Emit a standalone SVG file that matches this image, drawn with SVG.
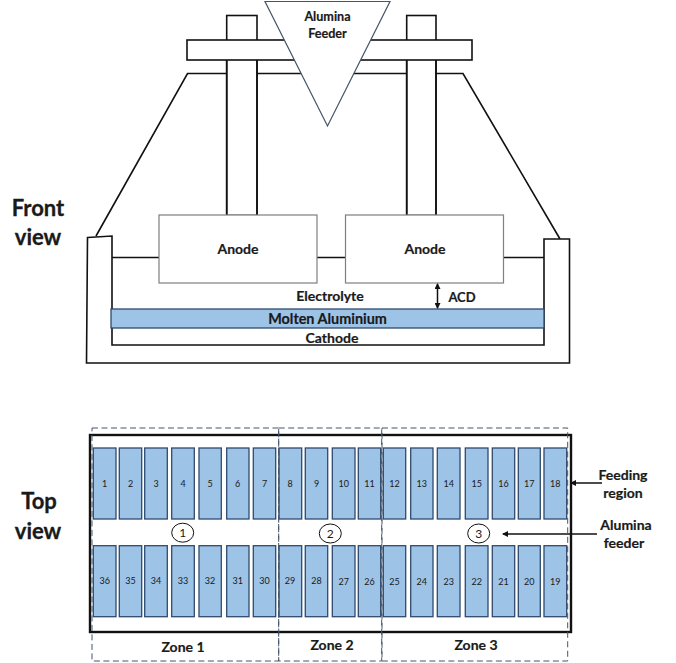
<svg xmlns="http://www.w3.org/2000/svg" width="676" height="663" viewBox="0 0 676 663">
<style>
text{font-family:Lato,"Liberation Sans",sans-serif;fill:#1a1a1a;text-anchor:middle}
.b{font-weight:700;font-size:14px;stroke:#1a1a1a;stroke-width:.2}
.f{font-weight:700;font-size:12.600px;stroke:#1a1a1a;stroke-width:.2}
.s{font-weight:700;font-size:14px;stroke:#1a1a1a;stroke-width:.2}
.h{font-weight:700;font-size:22px;stroke:#1a1a1a;stroke-width:.3}
.n{font-size:9px}
.c{font-size:12px}
.l{fill:none;stroke:#111;stroke-width:1.6}
.w{fill:#fff;stroke:#111;stroke-width:1.6}
.a{fill:#fff;stroke:#7f7f7f;stroke-width:1.2}
.t{fill:#9dc3e6;stroke:#2f4a6d;stroke-width:1.3}
.d{fill:none;stroke:#44546a;stroke-width:1;stroke-dasharray:6 3.5}
.e{fill:#fff;stroke:#111;stroke-width:1}
.k{fill:none;stroke:#111;stroke-width:1.5}
</style>
<defs>
<marker id="ah" markerWidth="6" markerHeight="6" refX="5" refY="3" orient="auto-start-reverse" markerUnits="userSpaceOnUse"><path d="M0 0L6 3L0 6Z" fill="#111"/></marker>
</defs>
<text class="h" x="38" y="216">Front</text>
<text class="h" x="38" y="245">view</text>
<text class="h" x="39" y="509">Top</text>
<text class="h" x="38" y="539">view</text>
<g id="cell-shell"><path class="l" d="M96 236L187.500 73.500H463L560 239"/><path class="w" d="M87.500 237.500L112 236V345H544V239H569.500V363H86.500Z"/></g>
<g id="electrolyte-level"><path class="l" d="M112 257.500H159M317 257.500H345.500M503.500 257.500H544"/></g>
<g id="anode-rods"><rect class="w" x="226.700" y="15.500" width="30.300" height="200"/><rect class="w" x="406.700" y="15.500" width="29.300" height="200"/><rect class="w" x="187" y="40" width="285" height="20"/><path class="l" d="M226.700 60V215M257 60V215M406.700 60V215M436 60V215"/></g>
<g id="alumina-feeder"><path d="M265 1.500H390L327.500 126Z" fill="#fff" stroke="#44546a" stroke-width="1.2"/><text class="f" x="327.500" y="21">Alumina</text><text class="f" x="327.500" y="38">Feeder</text></g>
<g id="anode-1"><rect class="a" x="159" y="215" width="158" height="68"/><text class="b" x="238" y="254">Anode</text></g>
<g id="anode-2"><rect class="a" x="345.500" y="215" width="158" height="68"/><text class="b" x="425" y="254">Anode</text></g>
<g id="molten-aluminium"><rect class="t" x="111" y="309" width="433" height="19" stroke="#44546a"/><text class="b" x="327.500" y="324" style="font-size:14.400px">Molten Aluminium</text></g>
<text class="b" x="330" y="301">Electrolyte</text>
<text class="b" x="332" y="343">Cathode</text>
<text class="b" x="462" y="302" style="font-size:13px">ACD</text>
<g id="connectors">
<path class="k" d="M437.500 284V308" stroke-width="1" marker-start="url(#ah)" marker-end="url(#ah)"/>
<path class="k" d="M602 483H571" marker-end="url(#ah)"/>
<path class="k" d="M597 534H503" marker-end="url(#ah)"/>
</g>
<g id="top-view-frame"><rect x="90" y="435" width="481" height="197" fill="none" stroke="#111" stroke-width="2.400"/></g>
<g id="anodes-top">
<g id="a1"><rect class="t" x="93.300" y="448" width="22.700" height="71"/><text class="n" x="104.700" y="487">1</text></g>
<g id="a2"><rect class="t" x="119.300" y="448" width="22.400" height="71"/><text class="n" x="130.500" y="487">2</text></g>
<g id="a3"><rect class="t" x="144.700" y="448" width="22.600" height="71"/><text class="n" x="156" y="487">3</text></g>
<g id="a4"><rect class="t" x="171.700" y="448" width="22.600" height="71"/><text class="n" x="183" y="487">4</text></g>
<g id="a5"><rect class="t" x="199" y="448" width="22.300" height="71"/><text class="n" x="210" y="487">5</text></g>
<g id="a6"><rect class="t" x="226.700" y="448" width="22.300" height="71"/><text class="n" x="237.700" y="487">6</text></g>
<g id="a7"><rect class="t" x="253.300" y="448" width="22.400" height="71"/><text class="n" x="264.500" y="487">7</text></g>
<g id="a8"><rect class="t" x="279" y="448" width="22.700" height="71"/><text class="n" x="290" y="487">8</text></g>
<g id="a9"><rect class="t" x="305.300" y="448" width="22.400" height="71"/><text class="n" x="316.500" y="487">9</text></g>
<g id="a10"><rect class="t" x="332.300" y="448" width="22.700" height="71"/><text class="n" x="343.700" y="487">10</text></g>
<g id="a11"><rect class="t" x="358.300" y="448" width="22.400" height="71"/><text class="n" x="369.500" y="487">11</text></g>
<g id="a12"><rect class="t" x="383.300" y="448" width="22.400" height="71"/><text class="n" x="394.500" y="487">12</text></g>
<g id="a13"><rect class="t" x="410.700" y="448" width="22.300" height="71"/><text class="n" x="421.700" y="487">13</text></g>
<g id="a14"><rect class="t" x="437.300" y="448" width="22.700" height="71"/><text class="n" x="448.700" y="487">14</text></g>
<g id="a15"><rect class="t" x="465.300" y="448" width="22.700" height="71"/><text class="n" x="476.700" y="487">15</text></g>
<g id="a16"><rect class="t" x="492.300" y="448" width="22.400" height="71"/><text class="n" x="503.500" y="487">16</text></g>
<g id="a17"><rect class="t" x="518.300" y="448" width="22" height="71"/><text class="n" x="529.300" y="487">17</text></g>
<g id="a18"><rect class="t" x="544" y="448" width="22.700" height="71"/><text class="n" x="555.300" y="487">18</text></g>
<g id="a36"><rect class="t" x="93.300" y="545.700" width="22.700" height="71"/><text class="n" x="104.700" y="584">36</text></g>
<g id="a35"><rect class="t" x="119.300" y="545.700" width="22.400" height="71"/><text class="n" x="130.500" y="584">35</text></g>
<g id="a34"><rect class="t" x="144.700" y="545.700" width="22.600" height="71"/><text class="n" x="156" y="584">34</text></g>
<g id="a33"><rect class="t" x="171.700" y="545.700" width="22.600" height="71"/><text class="n" x="183" y="584">33</text></g>
<g id="a32"><rect class="t" x="199" y="545.700" width="22.300" height="71"/><text class="n" x="210" y="584">32</text></g>
<g id="a31"><rect class="t" x="226.700" y="545.700" width="22.300" height="71"/><text class="n" x="237.700" y="584">31</text></g>
<g id="a30"><rect class="t" x="253.300" y="545.700" width="22.400" height="71"/><text class="n" x="264.500" y="584">30</text></g>
<g id="a29"><rect class="t" x="279" y="545.700" width="22.700" height="71"/><text class="n" x="290" y="584">29</text></g>
<g id="a28"><rect class="t" x="305.300" y="545.700" width="22.400" height="71"/><text class="n" x="316.500" y="584">28</text></g>
<g id="a27"><rect class="t" x="332.300" y="545.700" width="22.700" height="71"/><text class="n" x="343.700" y="585">27</text></g>
<g id="a26"><rect class="t" x="358.300" y="545.700" width="22.400" height="71"/><text class="n" x="369.500" y="585">26</text></g>
<g id="a25"><rect class="t" x="383.300" y="545.700" width="22.400" height="71"/><text class="n" x="394.500" y="585">25</text></g>
<g id="a24"><rect class="t" x="410.700" y="545.700" width="22.300" height="71"/><text class="n" x="421.700" y="585">24</text></g>
<g id="a23"><rect class="t" x="437.300" y="545.700" width="22.700" height="71"/><text class="n" x="448.700" y="585">23</text></g>
<g id="a22"><rect class="t" x="465.300" y="545.700" width="22.700" height="71"/><text class="n" x="476.700" y="585">22</text></g>
<g id="a21"><rect class="t" x="492.300" y="545.700" width="22.400" height="71"/><text class="n" x="503.500" y="585">21</text></g>
<g id="a20"><rect class="t" x="518.300" y="545.700" width="22" height="71"/><text class="n" x="529.300" y="585">20</text></g>
<g id="a19"><rect class="t" x="544" y="545.700" width="22.700" height="71"/><text class="n" x="555.300" y="585">19</text></g>
</g>
<g id="zone-1"><rect class="d" x="92" y="428" width="186.700" height="233"/><text class="b" x="183" y="652">Zone 1</text></g>
<g id="zone-2"><rect class="d" x="278.700" y="428" width="103" height="233"/><text class="b" x="332" y="650">Zone 2</text></g>
<g id="zone-3"><rect class="d" x="382" y="428" width="185.700" height="233"/><text class="b" x="476" y="650">Zone 3</text></g>
<g id="feeder-1"><ellipse class="e" cx="182.700" cy="532.700" rx="11" ry="9.500"/><text class="c" x="182.700" y="537">1</text></g>
<g id="feeder-2"><ellipse class="e" cx="330.300" cy="533.500" rx="11" ry="9.500"/><text class="c" x="330.300" y="538">2</text></g>
<g id="feeder-3"><ellipse class="e" cx="478.700" cy="533.500" rx="11" ry="9.500"/><text class="c" x="478.700" y="538">3</text></g>
<text class="s" x="623" y="480">Feeding</text>
<text class="s" x="623" y="498">region</text>
<text class="s" x="626" y="530">Alumina</text>
<text class="s" x="624" y="548">feeder</text>
</svg>
